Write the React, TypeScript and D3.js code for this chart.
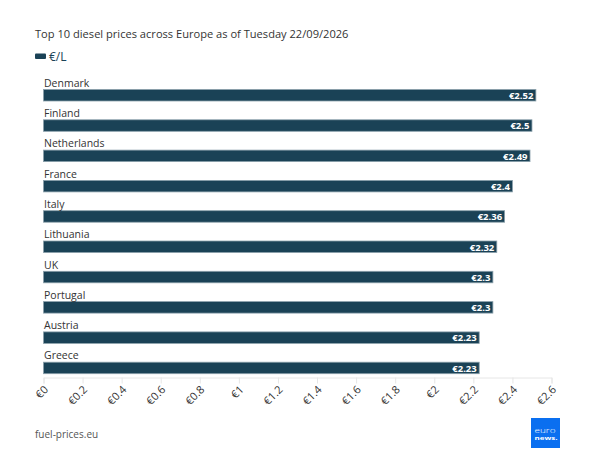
import { useEffect, useRef } from "react";
import * as d3 from "d3";

const countries = ["Denmark", "Finland", "Netherlands", "France", "Italy", "Lithuania", "UK", "Portugal", "Austria", "Greece"];
const prices = [2.52, 2.5, 2.49, 2.4, 2.36, 2.32, 2.3, 2.3, 2.23, 2.23];
const ticks = [0, 0.2, 0.4, 0.6, 0.8, 1, 1.2, 1.4, 1.6, 1.8, 2, 2.2, 2.4, 2.6];

const barColor = "#1a4256";
const font = "'Open Sans', sans-serif";

export default function App() {
  const svgRef = useRef<SVGSVGElement>(null);

  useEffect(() => {
    const svg = d3.select(svgRef.current);
    svg.selectAll("*").remove();

    const x = d3.scaleLinear().domain([0, 2.6]).range([43.5, 551.5]);
    const y = d3.scaleBand<string>().domain(countries).range([80, 383]).paddingInner(0);
    const barH = 11.5;
    const barOffset = 9.5;

    svg.append("rect").attr("width", 591).attr("height", 472).attr("fill", "#fff");

    svg.append("text").attr("x", 35).attr("y", 38).attr("font-size", 11.1).attr("fill", "#333").text("Top 10 diesel prices across Europe as of Tuesday 22/09/2026");

    // legend
    svg.append("rect").attr("x", 35).attr("y", 53.5).attr("width", 11).attr("height", 5.5).attr("rx", 1).attr("fill", barColor);
    svg.append("text").attr("x", 49).attr("y", 61).attr("font-size", 12).attr("fill", barColor).text("€/L");

    // axis
    const axis = d3.axisBottom(x).tickValues(ticks).tickSize(6).tickFormat((d) => `€${d}`);
    const ax = svg.append("g").attr("transform", "translate(0,377.5)").call(axis);
    ax.select(".domain").attr("stroke", "#e6e6e6");
    ax.selectAll(".tick line").attr("stroke", "#e6e6e6");
    ax.selectAll<SVGTextElement, number>(".tick text")
      .attr("font-family", font)
      .attr("font-size", 11)
      .attr("fill", "#333")
      .attr("text-anchor", "end")
      .attr("x", -5.5)
      .attr("y", 3.75)
      .attr("dy", "0.8em")
      .attr("transform", "rotate(-45)");

    // bars
    const rows = svg.append("g").selectAll("g").data(countries).join("g");

    rows.append("rect")
      .attr("x", x(0))
      .attr("y", (d) => y(d)! + barOffset)
      .attr("width", (_, i) => x(prices[i]) - x(0))
      .attr("height", barH)
      .attr("fill", barColor)
      .attr("stroke", "#8aa0ab")
      .attr("stroke-width", 0.8);

    rows.append("text")
      .attr("x", x(0) + 0.5)
      .attr("y", (d) => y(d)! + 6.7)
      .attr("font-size", 10.5)
      .attr("fill", "#333")
      .text((d) => d);

    rows.append("text")
      .attr("x", (_, i) => x(prices[i]) - 2.5)
      .attr("y", (d) => y(d)! + barOffset + 9.5)
      .attr("text-anchor", "end")
      .attr("font-size", 9.5)
      .attr("font-weight", 700)
      .attr("fill", "#fff")
      .text((_, i) => `€${prices[i]}`);

    svg.append("text").attr("x", 35).attr("y", 438).attr("font-size", 10).attr("fill", "#555").text("fuel-prices.eu");

    // logo
    const logo = svg.append("g");
    logo.append("rect").attr("x", 531).attr("y", 418).attr("width", 29).attr("height", 30).attr("fill", "#0a6ff0");
    logo.append("text").attr("x", 534.5).attr("y", 432.5).attr("font-size", 8).attr("font-weight", 300).attr("textLength", 21).attr("lengthAdjust", "spacingAndGlyphs").attr("fill", "#fff").text("euro");
    logo.append("text").attr("x", 534.5).attr("y", 439.5).attr("font-size", 6).attr("font-weight", 700).attr("textLength", 23).attr("lengthAdjust", "spacingAndGlyphs").attr("fill", "#fff").text("news.");
  }, []);

  return (
    <svg
      ref={svgRef}
      width={591}
      height={472}
      fontFamily={font}
      style={{ position: "absolute", left: 0, top: 0 }}
    />
  );
}
